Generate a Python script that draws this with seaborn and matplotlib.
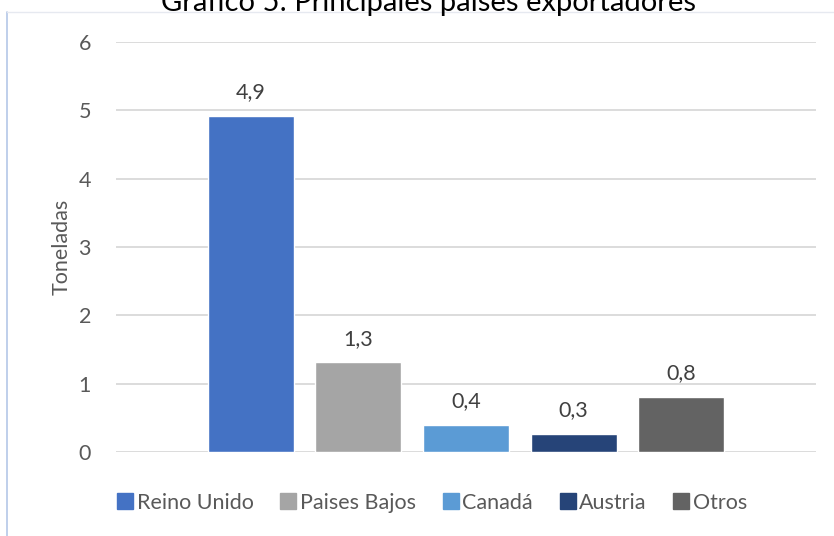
import matplotlib
matplotlib.use("Agg")
import matplotlib.pyplot as plt
from matplotlib.lines import Line2D
import seaborn as sns
import pandas as pd

# Export volumes by country (tonnes)
paises = ["Reino Unido", "Paises Bajos", "Canadá", "Austria", "Otros"]
toneladas = [4.92, 1.31, 0.39, 0.26, 0.80]
colores = ["#4472C4", "#A5A5A5", "#5B9BD5", "#264478", "#636363"]
yticks = [0, 1, 2, 3, 4, 5, 6]
titulo = "Gráfico 5: Principales países exportadores"
etiqueta_y = "Toneladas"

df = pd.DataFrame({"grupo": [""] * len(paises), "pais": paises, "t": toneladas})

sns.set_theme(style="white")
plt.rcParams["font.family"] = ["Lato", "DejaVu Sans"]

fig = plt.figure(figsize=(8.34, 5.36), dpi=100)
ax = fig.add_axes([116 / 834, 1 - 452 / 536, 700 / 834, 410 / 536])

sns.barplot(data=df, x="grupo", y="t", hue="pais", hue_order=paises,
            palette=colores, width=0.769, gap=0.2, saturation=1,
            legend=False, ax=ax)

ax.set_ylim(0, 6)
ax.set_xlim(-0.5, 0.5)
ax.set_yticks(yticks)
ax.set_yticklabels([str(v) for v in yticks])
ax.tick_params(axis="y", length=0, pad=18, labelsize=15.5, labelcolor="#595959")
ax.set_xticks([])
ax.set_xlabel("")
ax.set_ylabel(etiqueta_y, fontsize=15.5, color="#595959", labelpad=5)
ax.grid(axis="y", color="#d9d9d9", linewidth=1.3)
ax.set_axisbelow(True)
for s in ax.spines.values():
    s.set_visible(False)

for cont in ax.containers:
    ax.bar_label(cont, labels=[f"{b.get_height():.1f}".replace(".", ",") for b in cont],
                 padding=10, fontsize=15.5, color="#404040")

handles = [Line2D([], [], marker="s", linestyle="none", markersize=11,
                  markerfacecolor=c, markeredgecolor=c) for c in colores]
fig.legend(handles, paises, loc="center", bbox_to_anchor=(0.518, 1 - 503 / 536),
           ncol=5, frameon=False, fontsize=15.5, labelcolor="#595959",
           handletextpad=0.15, columnspacing=1.2, handlelength=0.8)

fig.text(0.514, 1 - 3 / 536, titulo, ha="center", va="center",
         fontsize=21, color="#000000")

# chart area border
fig.add_artist(Line2D([7 / 834, 7 / 834], [0, 1 - 12 / 536], transform=fig.transFigure,
                      color="#b4c7e7", linewidth=1.2))
fig.add_artist(Line2D([7 / 834, 1], [1 - 12 / 536, 1 - 12 / 536], transform=fig.transFigure,
                      color="#e6e9f0", linewidth=1.0))

fig.savefig("out.png", dpi=100)
